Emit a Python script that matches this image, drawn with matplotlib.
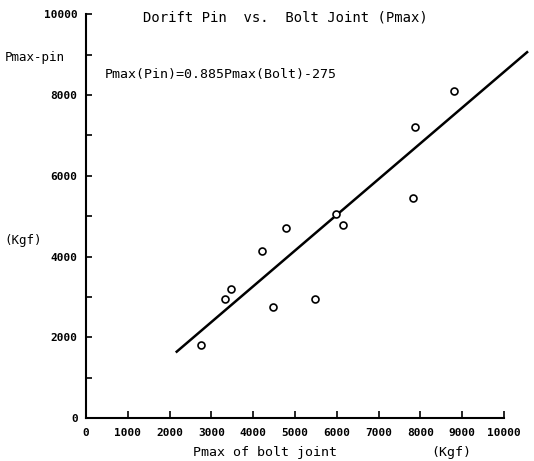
import matplotlib
matplotlib.use("Agg")
import matplotlib.pyplot as plt
import numpy as np

# measured points (bolt joint Pmax, drift pin Pmax), Kgf
bolt_pmax = [2740, 3330, 3480, 4210, 4480, 4790, 5480, 5980, 6140, 7830, 7880, 8790]
pin_pmax = [1810, 2950, 3190, 4130, 2750, 4700, 2950, 5050, 4780, 5450, 7200, 8090]

# regression line
slope = 0.885
intercept = -275
line_x = [2170, 10550]

x_ticks = list(range(0, 10001, 1000))
y_ticks = list(range(0, 10001, 1000))
y_labels = [str(v) if v % 2000 == 0 else "" for v in y_ticks]

title = "Dorift Pin  vs.  Bolt Joint (Pmax)"
equation = "Pmax(Pin)=0.885Pmax(Bolt)-275"

plt.rcParams['font.family'] = ['DejaVu Sans Mono']

fig = plt.figure(figsize=(5.34, 4.61), dpi=100)
ax = fig.add_axes([0.161, 0.093, 0.783, 0.876])

lx = np.array(line_x)
ax.plot(lx, slope * lx + intercept, color="black", lw=1.8, clip_on=False)
ax.plot(bolt_pmax, pin_pmax, "o", ms=5, mfc="white", mec="black", mew=1.2, clip_on=False)

ax.set_xlim(0, 10000)
ax.set_ylim(0, 10000)
ax.set_xticks(x_ticks)
ax.set_xticklabels([str(v) for v in x_ticks], fontsize=8, fontweight="bold")
ax.set_yticks(y_ticks)
ax.set_yticklabels(y_labels, fontsize=8, fontweight="bold")
ax.tick_params(axis="x", direction="in", length=5, width=1.2, pad=7)
ax.tick_params(axis="y", direction="in", length=4, width=1.2, pad=6)

for s in ["top", "right"]:
    ax.spines[s].set_visible(False)
for s in ["left", "bottom"]:
    ax.spines[s].set_linewidth(1.5)

fig.text(0.535, 0.963, title, ha="center", va="center", fontsize=10)
fig.text(0.197, 0.839, equation, ha="left", va="center", fontsize=9.5)
fig.text(0.008, 0.876, "Pmax-pin", ha="left", va="center", fontsize=9)
fig.text(0.008, 0.478, "(Kgf)", ha="left", va="center", fontsize=9)
fig.text(0.497, 0.019, "Pmax of bolt joint", ha="center", va="center", fontsize=9.5)
fig.text(0.845, 0.019, "(Kgf)", ha="center", va="center", fontsize=9.5)

fig.savefig("out.png", dpi=100, facecolor="white")
